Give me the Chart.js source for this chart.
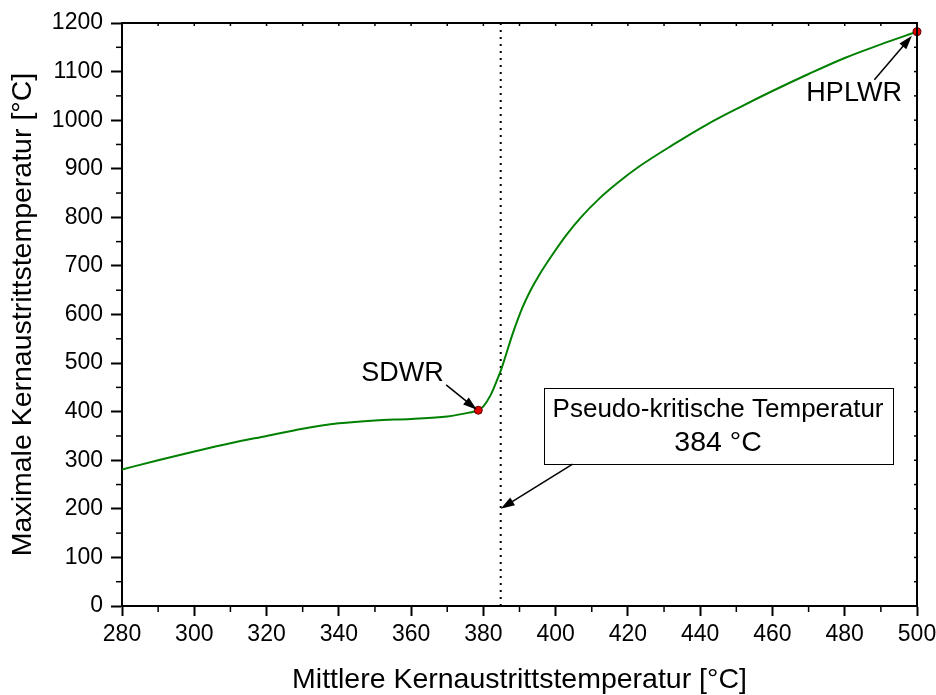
<!DOCTYPE html>
<html lang="de">
<head>
<meta charset="UTF-8">
<title>Kernaustrittstemperatur</title>
<script src="https://cdn.jsdelivr.net/npm/chart.js"></script>
<style>
  body { margin: 0; background: #fff; }
</style>
</head>
<body>
<canvas id="chart" width="936" height="695"></canvas>
<script>
// Kurve: mittlere vs. maximale Kernaustrittstemperatur
const curveX = [280, 290, 300, 310, 320, 330, 340, 350, 360, 370, 376, 378.6, 380, 382, 384, 384.9, 388.1, 390.8, 393, 395.5, 399, 403, 407, 412, 417, 423, 432.4, 441.6, 450.8, 460, 470, 480, 490, 500];
const curveY = [281, 300, 318, 335, 350, 365, 376, 382, 385, 390, 398, 403, 411, 434, 469, 486, 560, 614, 649, 682, 722, 764, 800, 838, 870, 904, 949, 990, 1026, 1060, 1095, 1128, 1156, 1182];

// markierte Reaktoren
const markerX = [378.6, 500];
const markerY = [403, 1182];
const markerNames = ['SDWR', 'HPLWR'];

// Achsenbeschriftung
const xTicks = [280, 300, 320, 340, 360, 380, 400, 420, 440, 460, 480, 500];
const yTicks = [0, 100, 200, 300, 400, 500, 600, 700, 800, 900, 1000, 1100, 1200];

const pseudoCritical = 384.8;
const boxLines = ['Pseudo-kritische Temperatur', '384 °C'];

const FONT = "'Liberation Sans', Arial, sans-serif";

function arrow(ctx, x1, y1, x2, y2) {
    const a = Math.atan2(y2 - y1, x2 - x1);
    const len = 14, w = 4.5;
    ctx.beginPath();
    ctx.moveTo(x1, y1);
    ctx.lineTo(x2 - Math.cos(a) * len * 0.8, y2 - Math.sin(a) * len * 0.8);
    ctx.stroke();
    ctx.beginPath();
    ctx.moveTo(x2, y2);
    ctx.lineTo(x2 - Math.cos(a) * len - Math.sin(a) * w, y2 - Math.sin(a) * len + Math.cos(a) * w);
    ctx.lineTo(x2 - Math.cos(a) * len + Math.sin(a) * w, y2 - Math.sin(a) * len - Math.cos(a) * w);
    ctx.closePath();
    ctx.fill();
}

// Nebenstriche, Rahmen oben/rechts, gepunktete Linie, Beschriftungen
const framePlugin = {
    id: 'frame',
    beforeDatasetsDraw(chart) {
        const { ctx, chartArea: ca, scales: { x } } = chart;
        ctx.save();
        const px = x.getPixelForValue(pseudoCritical);
        ctx.strokeStyle = '#000';
        ctx.lineWidth = 2;
        ctx.setLineDash([2, 5]);
        ctx.beginPath();
        ctx.moveTo(px, ca.bottom);
        ctx.lineTo(px, ca.top);
        ctx.stroke();
        ctx.restore();
    },
    afterDraw(chart) {
        const { ctx, chartArea: ca, scales: { x, y } } = chart;
        ctx.save();
        ctx.strokeStyle = '#000';
        ctx.fillStyle = '#000';
        ctx.lineWidth = 2;
        // Rahmen oben und rechts
        ctx.beginPath();
        ctx.moveTo(ca.left - 1, ca.top);
        ctx.lineTo(ca.right, ca.top);
        ctx.lineTo(ca.right, ca.bottom);
        ctx.stroke();
        ctx.lineWidth = 1.5;
        for (let v = 290; v < 500; v += 20) {
            const p = x.getPixelForValue(v);
            ctx.beginPath(); ctx.moveTo(p, ca.bottom); ctx.lineTo(p, ca.bottom + 6); ctx.stroke();
        }
        for (let v = 50; v < 1200; v += 100) {
            const p = y.getPixelForValue(v);
            ctx.beginPath(); ctx.moveTo(ca.left, p); ctx.lineTo(ca.left - 6, p); ctx.stroke();
        }
        for (let v = 290; v < 500; v += 10) {
            const p = x.getPixelForValue(v);
            ctx.beginPath(); ctx.moveTo(p, ca.top); ctx.lineTo(p, ca.top + 3); ctx.stroke();
        }
        for (let v = 50; v < 1200; v += 50) {
            const p = y.getPixelForValue(v);
            ctx.beginPath(); ctx.moveTo(ca.right, p); ctx.lineTo(ca.right - 3, p); ctx.stroke();
        }

        // SDWR / HPLWR
        ctx.font = '27px ' + FONT;
        ctx.textAlign = 'center';
        ctx.textBaseline = 'middle';
        ctx.fillText(markerNames[0], x.getPixelForValue(357.6), y.getPixelForValue(478));
        arrow(ctx, x.getPixelForValue(369.7), y.getPixelForValue(455), x.getPixelForValue(378.2), y.getPixelForValue(404));
        ctx.fillText(markerNames[1], x.getPixelForValue(482.6), y.getPixelForValue(1054));
        arrow(ctx, x.getPixelForValue(488.2), y.getPixelForValue(1083), x.getPixelForValue(498.6), y.getPixelForValue(1174));

        // Kasten
        const bx1 = x.getPixelForValue(396.7), bx2 = x.getPixelForValue(493.2);
        const by1 = y.getPixelForValue(448), by2 = y.getPixelForValue(292);
        ctx.fillStyle = '#fff';
        ctx.fillRect(bx1, by1, bx2 - bx1, by2 - by1);
        ctx.lineWidth = 1;
        ctx.strokeRect(Math.round(bx1) + 0.5, Math.round(by1) + 0.5, Math.round(bx2 - bx1), Math.round(by2 - by1));
        ctx.fillStyle = '#000';
        const cx = (bx1 + bx2) / 2;
        ctx.font = '26px ' + FONT;
        ctx.fillText(boxLines[0], cx, y.getPixelForValue(403));
        ctx.font = '28.5px ' + FONT;
        ctx.fillText(boxLines[1], cx, y.getPixelForValue(335));
        ctx.lineWidth = 1.5;
        arrow(ctx, x.getPixelForValue(404.7), y.getPixelForValue(292), x.getPixelForValue(pseudoCritical), y.getPixelForValue(200));
        ctx.restore();
    }
};

const ctx = document.getElementById('chart').getContext('2d');
const chart = new Chart(ctx, {
    type: 'scatter',
    data: {
        datasets: [{
            label: 'Reaktoren',
            data: markerX.map((v, i) => ({ x: v, y: markerY[i] })),
            pointRadius: 4,
            pointBackgroundColor: '#e00000',
            pointBorderColor: '#600000',
            pointBorderWidth: 1,
            showLine: false,
            clip: false,
            order: 0
        }, {
            label: 'Kurve',
            data: curveX.map((v, i) => ({ x: v, y: curveY[i] })),
            showLine: true,
            borderColor: '#008000',
            borderWidth: 2,
            pointRadius: 0,
            cubicInterpolationMode: 'monotone',
            order: 1
        }]
    },
    options: {
        responsive: false,
        animation: false,
        devicePixelRatio: 1,
        layout: { padding: { left: 0, right: 19, top: 23, bottom: 0 } },
        plugins: { legend: { display: false }, tooltip: { enabled: false } },
        scales: {
            x: {
                type: 'linear',
                min: 280, max: 500,
                afterBuildTicks: s => { s.ticks = xTicks.map(v => ({ value: v })); },
                afterFit: s => { s.height = 89; s.paddingLeft = 0; s.paddingRight = 0; },
                grid: { drawOnChartArea: false, tickLength: 10, tickColor: '#000', tickWidth: 2 },
                border: { display: true, color: '#000', width: 2 },
                ticks: { color: '#000', font: { family: FONT, size: 23 }, padding: 5, maxRotation: 0, callback: v => String(v) },
                title: { display: true, text: 'Mittlere Kernaustrittstemperatur [°C]', color: '#000', font: { family: FONT, size: 28.5 }, padding: { top: 0, bottom: -2 } }
            },
            y: {
                min: 0, max: 1200,
                afterBuildTicks: s => { s.ticks = yTicks.map(v => ({ value: v })); },
                afterFit: s => { s.width = 122; s.paddingTop = 0; s.paddingBottom = 0; },
                grid: { drawOnChartArea: false, tickLength: 11, tickColor: '#000', tickWidth: 2 },
                border: { display: true, color: '#000', width: 2 },
                ticks: { color: '#000', font: { family: FONT, size: 23 }, padding: 8, callback: v => String(v) },
                title: { display: true, text: 'Maximale Kernaustrittstemperatur [°C]', color: '#000', font: { family: FONT, size: 28.5 }, padding: { top: 6, bottom: 0 } }
            }
        }
    },
    plugins: [framePlugin]
});
</script>
</body>
</html>
